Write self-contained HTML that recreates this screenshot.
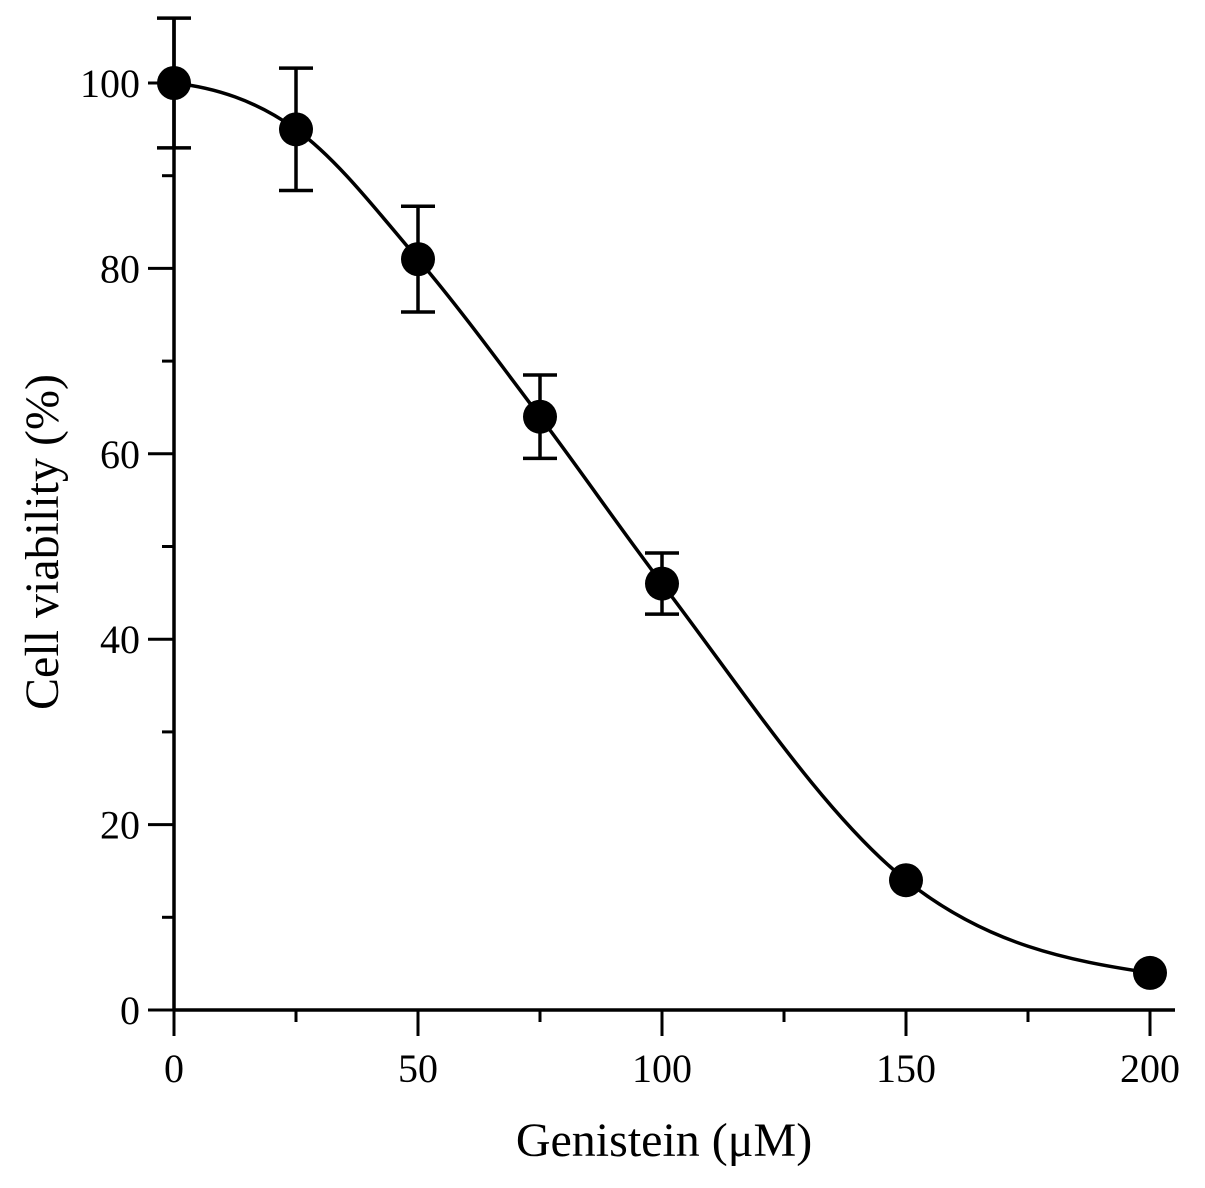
<!DOCTYPE html>
<html><head><meta charset="utf-8"><style>
html,body{margin:0;padding:0;background:#fff}
svg{display:block}
text{font-family:"Liberation Serif",serif;fill:#000}
</style></head><body>
<svg id="chart" width="1205" height="1188" viewBox="0 0 1205 1188" xmlns="http://www.w3.org/2000/svg">
<g id="axes"></g>
<g id="plot"></g>
<text x="664" y="1156" font-size="48" text-anchor="middle">Genistein (μM)</text>
<text transform="translate(58,542) rotate(-90)" font-size="48" text-anchor="middle">Cell viability (%)</text>
</svg>
<script>
const doses = [0, 25, 50, 75, 100, 150, 200];
const viability = [100, 95, 81, 64, 46, 14, 4];
const errors = [7, 6.6, 5.7, 4.5, 3.3, 0, 0];
const xTickLabels = [0, 50, 100, 150, 200];
const yTickLabels = [0, 20, 40, 60, 80, 100];

const X0 = 174, X1 = 1150, Y0 = 1010, Y1 = 83;
const xs = v => X0 + (v - 0) / 200 * (X1 - X0);
const ys = v => Y0 - v / 100 * (Y0 - Y1);
const NS = "http://www.w3.org/2000/svg";
function mk(tag, attrs, parent) {
  const e = document.createElementNS(NS, tag);
  for (const k in attrs) e.setAttribute(k, attrs[k]);
  parent.appendChild(e);
  return e;
}
const axes = document.getElementById('axes');
const plot = document.getElementById('plot');

let e = mk('line', {x1: X0, y1: Y0, x2: 1175, y2: Y0, stroke: '#000', 'stroke-width': 3.5}, axes);


e = mk('line', {x1: X0, y1: Y0 + 1, x2: X0, y2: 17, stroke: '#000', 'stroke-width': 3.5}, axes);



for (let v = 0; v <= 200; v += 25) {
  const major = v % 50 === 0;
  e = mk('line', {x1: xs(v), y1: Y0, x2: xs(v), y2: Y0 + (major ? 26 : 12), stroke: '#000', 'stroke-width': 3}, axes);
  
  
}
xTickLabels.forEach(v => {
  const t = mk('text', {x: xs(v), y: 1082, 'font-size': 40, 'text-anchor': 'middle'}, axes);
  t.textContent = v;
  
  
});
for (let v = 0; v <= 100; v += 10) {
  const major = v % 20 === 0;
  e = mk('line', {x1: X0 - (major ? 26 : 12), y1: ys(v), x2: X0, y2: ys(v), stroke: '#000', 'stroke-width': 3}, axes);
  
  
}
yTickLabels.forEach(v => {
  const t = mk('text', {x: 140, y: ys(v) + 14, 'font-size': 40, 'text-anchor': 'end'}, axes);
  t.textContent = v;
  
  
});

const P = doses.map((d, i) => [xs(d), ys(viability[i])]);
const n = P.length;
const dk = [], m = [];
for (let i = 0; i < n - 1; i++) dk.push((P[i+1][1] - P[i][1]) / (P[i+1][0] - P[i][0]));
m[0] = dk[0] * 0.3;
for (let i = 1; i < n - 1; i++) m[i] = (dk[i-1] * (P[i+1][0]-P[i][0]) + dk[i] * (P[i][0]-P[i-1][0])) / (P[i+1][0]-P[i-1][0]);
m[n-1] = dk[n-2] * 0.4;
let d = `M${P[0][0]},${P[0][1]}`;
for (let i = 0; i < n - 1; i++) {
  const h = P[i+1][0] - P[i][0];
  d += ` C${P[i][0]+h/3},${P[i][1]+m[i]*h/3} ${P[i+1][0]-h/3},${P[i+1][1]-m[i+1]*h/3} ${P[i+1][0]},${P[i+1][1]}`;
}
e = mk('path', {d: d, fill: 'none', stroke: '#000', 'stroke-width': 3.5}, plot);



doses.forEach((dv, i) => {
  const x = xs(dv), y = ys(viability[i]);
  if (errors[i] > 0) {
    const yt = ys(viability[i] + errors[i]), yb = ys(viability[i] - errors[i]);
    const g = mk('g', {stroke: '#000', 'stroke-width': 3.5}, plot);
    
    
    mk('line', {x1: x, y1: yt, x2: x, y2: yb}, g);
    mk('line', {x1: x - 17, y1: yt, x2: x + 17, y2: yt}, g);
    mk('line', {x1: x - 17, y1: yb, x2: x + 17, y2: yb}, g);
  }
  const c = mk('circle', {cx: x, cy: y, r: 17, fill: '#000'}, plot);
  
  
});
</script>
</body></html>
